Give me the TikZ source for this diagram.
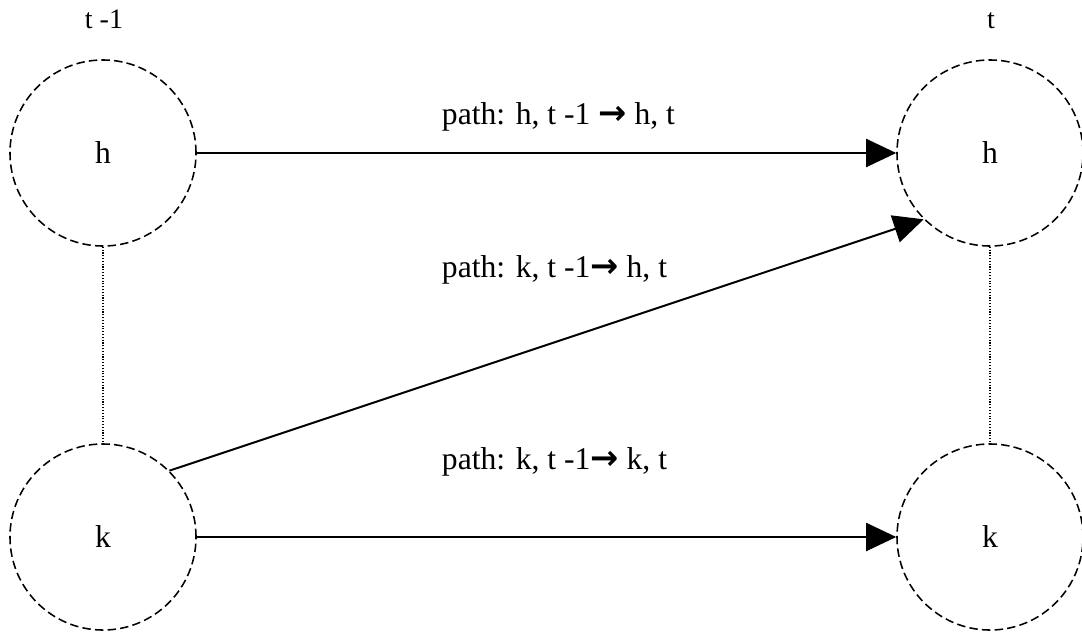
\documentclass[tikz,border=0pt]{standalone}
\usepackage{fontspec}
\setmainfont{Liberation Serif}
\newfontfamily\arrowfont{DejaVu Sans}
\usetikzlibrary{arrows.meta}
\newcommand{\goesto}{{\arrowfont\bfseries\fontsize{24}{28}\selectfont\symbol{"2192}}}

\begin{document}
\begin{tikzpicture}[
  x=0.025cm, y=-0.025cm,
  font=\fontsize{22.5}{27}\selectfont,
  >={Triangle[length=0.75cm, width=0.7cm]},
  state/.style={circle, draw, dash pattern=on 6pt off 3pt, line width=1.1pt,
    minimum size=4.65cm, inner sep=0pt},
  trans/.style={->, line width=1.4pt},
  link/.style={dash pattern=on 0.8pt off 1.2pt, line width=0.8pt},
  lab/.style={anchor=base west},
  timelab/.style={anchor=base, font=\fontsize{20}{24}\selectfont}
]
\useasboundingbox (0,0) rectangle (1082,632);

% time slices
\node[timelab] (tprev) at (104,28) {t -1};
\node[timelab] (tnow) at (991,28) {t};

% states
\node[state] (hprev) at (103,153) {h};
\node[state] (kprev) at (103,537) {k};
\node[state] (hnow) at (990,153) {h};
\node[state] (know) at (990,537) {k};

\draw[link] (hprev) -- (kprev);
\draw[link] (hnow) -- (know);

% transitions
\draw[trans] (hprev) -- (hnow);
\draw[trans] (kprev.north east) -- (hnow.south west);
\draw[trans] (kprev) -- (know);

\node[lab] (phh) at (437,124) {path: h, t -1 \goesto\ h, t};
\node[lab] (pkh) at (437,277) {path: k, t -1\goesto\ h, t};
\node[lab] (pkk) at (437,469) {path: k, t -1\goesto\ k, t};
\end{tikzpicture}
\end{document}
